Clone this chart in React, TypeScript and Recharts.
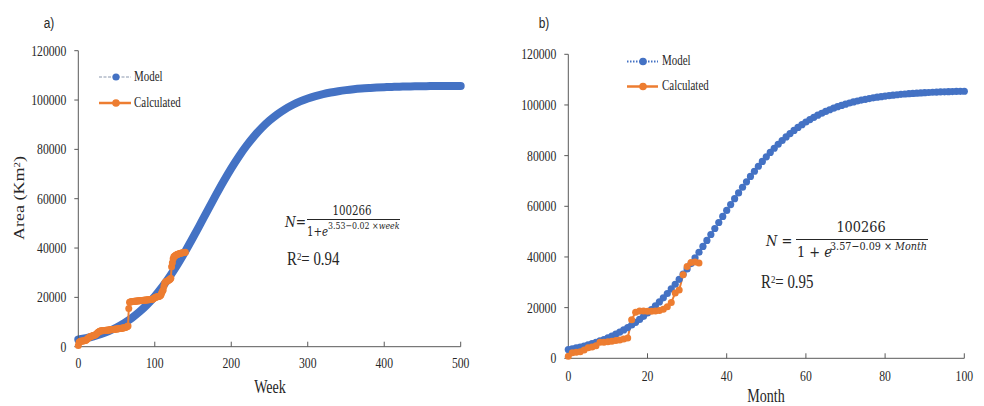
import React from 'react';
import { LineChart, Line, XAxis, YAxis, Legend } from 'recharts';

const SERIF = '"Liberation Serif", "Times New Roman", serif';
const MATH = '"DejaVu Serif", serif';
const SANS = '"Liberation Sans", Arial, sans-serif';
const BLUE = '#4472C4';
const ORANGE = '#ED7D31';
const TEXT = '#262626';
const AXIS = '#595959';
const SX = 0.78;

// ---- tick labels ----
const areaTicks = [0, 20000, 40000, 60000, 80000, 100000, 120000];
const weekTicks = [0, 100, 200, 300, 400, 500];
const monthTicks = [0, 20, 40, 60, 80, 100];

// ---- panel a: Model (sampled every 10 weeks) ----
const modelWeeks = [0, 10, 20, 30, 40, 50, 60, 70, 80, 90, 100, 110, 120, 130, 140, 150, 160, 170, 180, 190, 200, 210, 220, 230, 240, 250, 260, 270, 280, 290, 300, 310, 320, 330, 340, 350, 360, 370, 380, 390, 400, 410, 420, 430, 440, 450, 460, 470, 480, 490, 500];
const modelWeekArea = [2900, 3450, 4180, 5160, 6360, 7810, 9560, 11650, 14130, 17050, 20430, 24310, 28660, 33480, 38710, 44250, 50000, 55810, 61550, 67090, 72320, 77140, 81500, 85370, 88760, 91670, 94150, 96240, 97990, 99450, 100640, 101610, 102420, 103070, 103590, 104020, 104370, 104650, 104870, 105060, 105200, 105320, 105410, 105490, 105550, 105600, 105640, 105670, 105700, 105720, 105730];

// ---- panel a: Calculated (weekly) ----
const calcWeeks = [0, 1, 2, 3, 4, 5, 6, 7, 8, 9, 10, 11, 12, 13, 14, 15, 16, 17, 18, 19, 20, 21, 22, 23, 24, 25, 26, 27, 28, 29, 30, 31, 32, 33, 34, 35, 36, 37, 38, 39, 40, 41, 42, 43, 44, 45, 46, 47, 48, 49, 50, 51, 52, 53, 54, 55, 56, 57, 58, 59, 60, 61, 62, 63, 64, 65, 66, 67, 68, 69, 70, 71, 72, 73, 74, 75, 76, 77, 78, 79, 80, 81, 82, 83, 84, 85, 86, 87, 88, 89, 90, 91, 92, 93, 94, 95, 96, 97, 98, 99, 100, 101, 102, 103, 104, 105, 106, 107, 108, 109, 110, 111, 112, 113, 114, 115, 116, 117, 118, 119, 120, 121, 122, 123, 124, 125, 126, 127, 128, 129, 130, 131, 132, 133, 134, 135, 136, 137, 138, 139, 140];
const calcWeekArea = [
  500, 1800, 2000, 2200, 2200, 2300, 2300, 2400, 2400, 2500,
  2600, 2900, 3200, 3500, 3700, 3900, 4100, 4200, 4300, 4400,
  4500, 4600, 4700, 4900, 5200, 5600, 5900, 6100, 6300, 6400,
  6500, 6500, 6500, 6600, 6600, 6600, 6700, 6700, 6700, 6800,
  6800, 6800, 6900, 6900, 7000, 7000, 7000, 7100, 7100, 7200,
  7200, 7200, 7300, 7300, 7400, 7400, 7500, 7500, 7600, 7600,
  7700, 7800, 7900, 8000, 8200, 8400, 15500, 18000, 18100, 18200,
  18200, 18300, 18300, 18400, 18400, 18400, 18500, 18500, 18500, 18600,
  18600, 18600, 18700, 18700, 18700, 18800, 18800, 18800, 18900, 18900,
  18900, 19000, 19000, 19000, 19100, 19100, 19100, 19200, 19400, 19600,
  19800, 20000, 20100, 20200, 20300, 20400, 20500, 20700, 21000, 21800,
  22500, 23000, 24500, 25800, 26200, 26400, 26500, 26700, 26900, 27100,
  27300, 27700, 32400, 34000, 35700, 36500, 36800, 37000, 37200, 37400,
  37500, 37600, 37700, 37800, 37900, 38000, 38000, 38100, 38200, 38200, 38300,
];

// ---- panel b: Model (monthly) ----
const modelMonths = [0, 1, 2, 3, 4, 5, 6, 7, 8, 9, 10, 11, 12, 13, 14, 15, 16, 17, 18, 19, 20, 21, 22, 23, 24, 25, 26, 27, 28, 29, 30, 31, 32, 33, 34, 35, 36, 37, 38, 39, 40, 41, 42, 43, 44, 45, 46, 47, 48, 49, 50, 51, 52, 53, 54, 55, 56, 57, 58, 59, 60, 61, 62, 63, 64, 65, 66, 67, 68, 69, 70, 71, 72, 73, 74, 75, 76, 77, 78, 79, 80, 81, 82, 83, 84, 85, 86, 87, 88, 89, 90, 91, 92, 93, 94, 95, 96, 97, 98, 99, 100];
const modelMonthArea = [
  3440, 3750, 4090, 4460, 4860, 5300, 5770, 6280, 6840, 7430,
  8080, 8770, 9530, 10340, 11210, 12140, 13140, 14220, 15360, 16580,
  17880, 19250, 20710, 22250, 23870, 25580, 27370, 29230, 31170, 33190,
  35270, 37410, 39630, 41870, 44180, 46510, 48870, 51240, 53610, 55990,
  58360, 60700, 63010, 65290, 67510, 69680, 71790, 73830, 75800, 77700,
  79520, 81250, 82910, 84490, 85970, 87380, 88710, 89960, 91140, 92230,
  93270, 94230, 95130, 95960, 96730, 97450, 98120, 98730, 99310, 99830,
  100320, 100770, 101190, 101570, 101920, 102240, 102540, 102810, 103060, 103290,
  103500, 103700, 103870, 104030, 104190, 104320, 104450, 104570, 104670, 104760,
  104860, 104930, 105010, 105080, 105140, 105200, 105250, 105300, 105340, 105380, 105410,
];

// ---- panel b: Calculated (monthly) ----
const calcMonths = [0, 1, 2, 3, 4, 5, 6, 7, 8, 9, 10, 11, 12, 13, 14, 15, 16, 17, 18, 19, 20, 21, 22, 23, 24, 25, 26, 27, 28, 29, 30, 31, 32, 33];
const calcMonthArea = [800, 2200, 2400, 2600, 3300, 4200, 4500, 5000, 6300, 6300, 6500, 6700, 7000, 7200, 7600, 8000, 15200, 18200, 18700, 18700, 18600, 18600, 18700, 18900, 19400, 20300, 22000, 25800, 27000, 33000, 36200, 37800, 38000, 37600];

const zip = (xs: number[], ys: number[]) => xs.map((x, i) => ({ x, y: ys[i] }));
const modelA = zip(modelWeeks, modelWeekArea);
const calcA = zip(calcWeeks, calcWeekArea);
const modelB = zip(modelMonths, modelMonthArea);
const calcB = zip(calcMonths, calcMonthArea);

// ---- ticks ----
function YTick(props: any) {
  const { x, y, payload } = props;
  return (
    <text transform={`translate(${x},${y}) scale(${SX},1)`} textAnchor="end" dominantBaseline="central"
      fontFamily={SERIF} fontSize={15} fill={TEXT}>{payload.value}</text>
  );
}
function XTick(props: any) {
  const { x, y, payload } = props;
  return (
    <text transform={`translate(${x},${y}) scale(${SX},1)`} textAnchor="middle" dy="0.71em"
      fontFamily={SERIF} fontSize={15} fill={TEXT}>{payload.value}</text>
  );
}

// ---- text helpers ----
type LProps = { left: number; cy: number; size: number; family?: string; italic?: boolean; scale?: number; children: React.ReactNode };
function L({ left, cy, size, family = SERIF, italic, scale = SX, children }: LProps) {
  return (
    <div style={{ position: 'absolute', left, top: cy, whiteSpace: 'nowrap', fontFamily: family, fontSize: size,
      fontStyle: italic ? 'italic' : 'normal', lineHeight: 1, color: TEXT, transformOrigin: 'left center',
      transform: `translateY(-50%) scaleX(${scale})` }}>{children}</div>
  );
}
function C({ cx, cy, size, family = SERIF, scale = SX, rotate = false, children }: any) {
  return (
    <div style={{ position: 'absolute', left: cx, top: cy, width: 0, height: 0 }}>
      <div style={{ position: 'absolute', left: 0, top: 0, whiteSpace: 'nowrap', fontFamily: family, fontSize: size,
        lineHeight: 1, color: TEXT, transform: `translate(-50%,-50%) scaleX(${scale})${rotate ? ' rotate(-90deg)' : ''}` }}>{children}</div>
    </div>
  );
}
const sup = { fontSize: '0.6em', position: 'relative' as const, top: '-0.45em' };

// ---- legends ----
type Row = { label: string; color: string; lineColor: string; lineWidth: number; dash?: string; r: number };
function makeLegend(rows: Row[], rowH: number, lineW: number, markerX: number, textX: number) {
  return () => (
    <div style={{ position: 'relative', width: 130, height: rows.length * rowH }}>
      {rows.map((r, i) => (
        <div key={i} style={{ position: 'absolute', left: 0, top: i * rowH, width: 130, height: rowH }}>
          <svg width={lineW} height={rowH} style={{ position: 'absolute', left: 0, top: 0 }}>
            <line x1={0} x2={lineW} y1={rowH / 2} y2={rowH / 2} stroke={r.lineColor} strokeWidth={r.lineWidth} strokeDasharray={r.dash} />
            <circle cx={markerX} cy={rowH / 2} r={r.r} fill={r.color} />
          </svg>
          <L left={textX} cy={rowH / 2} size={14}>{r.label}</L>
        </div>
      ))}
    </div>
  );
}
const legendA = makeLegend([
  { label: 'Model', color: BLUE, lineColor: '#8a97ad', lineWidth: 1, dash: '3 1.5', r: 3.6 },
  { label: 'Calculated', color: ORANGE, lineColor: ORANGE, lineWidth: 2.5, r: 3.8 },
], 26, 32, 17, 35);
const legendB = makeLegend([
  { label: 'Model', color: BLUE, lineColor: BLUE, lineWidth: 2, dash: '1.5 1.5', r: 3.8 },
  { label: 'Calculated', color: ORANGE, lineColor: ORANGE, lineWidth: 2.5, r: 3.8 },
], 25, 31, 16, 35);

export default function App() {
  return (
    <div style={{ position: 'absolute', left: 0, top: 0, width: 984, height: 406, background: '#fff', overflow: 'hidden' }}>
      {/* Panel a */}
      <div style={{ position: 'absolute', left: 0, top: 0 }}>
        <LineChart width={490} height={406} margin={{ top: 50.7, right: 29.3, bottom: 29.3, left: 18 }}>
          <XAxis type="number" dataKey="x" domain={[0, 500]} ticks={weekTicks} interval={0} height={30}
            axisLine={{ stroke: AXIS }} tickLine={{ stroke: AXIS }} tickSize={-5} tickMargin={16} tick={XTick} />
          <YAxis type="number" dataKey="y" domain={[0, 120000]} ticks={areaTicks} interval={0} width={60.3}
            axisLine={{ stroke: AXIS }} tickLine={{ stroke: AXIS }} tickSize={4} tickMargin={8} tick={YTick} />
          <Line data={modelA} dataKey="y" name="Model" type="monotone" stroke={BLUE} strokeWidth={8}
            strokeLinecap="round" strokeLinejoin="round" dot={false} activeDot={false} isAnimationActive={false} />
          <Line data={calcA} dataKey="y" name="Calculated" type="linear" stroke={ORANGE} strokeWidth={2}
            dot={{ r: 3.5, fill: ORANGE, stroke: 'none' }} activeDot={false} isAnimationActive={false} />
          <Legend layout="vertical" align="center" verticalAlign="middle" content={legendA}
            wrapperStyle={{ left: 99, top: 64, width: 130 }} />
        </LineChart>
      </div>
      {/* Panel b */}
      <div style={{ position: 'absolute', left: 490, top: 0 }}>
        <LineChart width={494} height={406} margin={{ top: 54.3, right: 19.7, bottom: 17.7, left: 18 }}>
          <XAxis type="number" dataKey="x" domain={[0, 100]} ticks={monthTicks} interval={0} height={30}
            axisLine={{ stroke: AXIS }} tickLine={{ stroke: AXIS }} tickSize={-5} tickMargin={17} tick={XTick} />
          <YAxis type="number" dataKey="y" domain={[0, 120000]} ticks={areaTicks} interval={0} width={60.3}
            axisLine={{ stroke: AXIS }} tickLine={{ stroke: AXIS }} tickSize={4} tickMargin={8} tick={YTick} />
          <Line data={modelB} dataKey="y" name="Model" type="linear" stroke={BLUE} strokeWidth={1.5}
            strokeDasharray="1.5 1.5" dot={{ r: 3.6, fill: BLUE, stroke: 'none' }} activeDot={false} isAnimationActive={false} />
          <Line data={calcB} dataKey="y" name="Calculated" type="linear" stroke={ORANGE} strokeWidth={2}
            dot={{ r: 3.5, fill: ORANGE, stroke: 'none' }} activeDot={false} isAnimationActive={false} />
          <Legend layout="vertical" align="center" verticalAlign="middle" content={legendB}
            wrapperStyle={{ left: 137, top: 48.5, width: 130 }} />
        </LineChart>
      </div>

      {/* Panel labels and axis titles */}
      <C cx={48.5} cy={23} size={14} family={SANS} scale={0.85}>a)</C>
      <C cx={544} cy={23} size={14} family={SANS} scale={0.85}>b)</C>
      <C cx={270} cy={387} size={18}>Week</C>
      <C cx={766} cy={396} size={18}>Month</C>
      <C cx={19} cy={198} size={18} rotate>Area (Km<span style={sup}>2</span>)</C>

      {/* Equation a */}
      <L left={285} cy={222} size={15} family={MATH} scale={0.82}><i>N</i>=</L>
      <C cx={352.3} cy={210.5} size={12.5} family={MATH} scale={0.82}>100266</C>
      <div style={{ position: 'absolute', left: 306.5, top: 219, width: 93.5, height: 1, background: TEXT }} />
      <L left={306.5} cy={231.5} size={12.5} family={MATH} scale={0.82}>1+<i>e</i></L>
      <L left={327.5} cy={225.5} size={9.6} family={MATH} scale={0.82}>3.53−0.02 ×<i>week</i></L>
      <L left={287} cy={258} size={19}>R<span style={sup}>2</span>= 0.94</L>

      {/* Equation b */}
      <L left={766} cy={241} size={15} family={MATH} scale={0.86}><i>N</i> =</L>
      <C cx={861.3} cy={227.3} size={15} family={MATH} scale={0.86}>100266</C>
      <div style={{ position: 'absolute', left: 795.5, top: 239, width: 132.5, height: 1, background: TEXT }} />
      <L left={796.5} cy={251.7} size={15} family={MATH} scale={0.86}>1 + <i>e</i></L>
      <L left={830} cy={247} size={11.2} family={MATH} scale={0.86}>3.57−0.09 × <i>Month</i></L>
      <L left={761} cy={281} size={19}>R<span style={sup}>2</span>= 0.95</L>
    </div>
  );
}
